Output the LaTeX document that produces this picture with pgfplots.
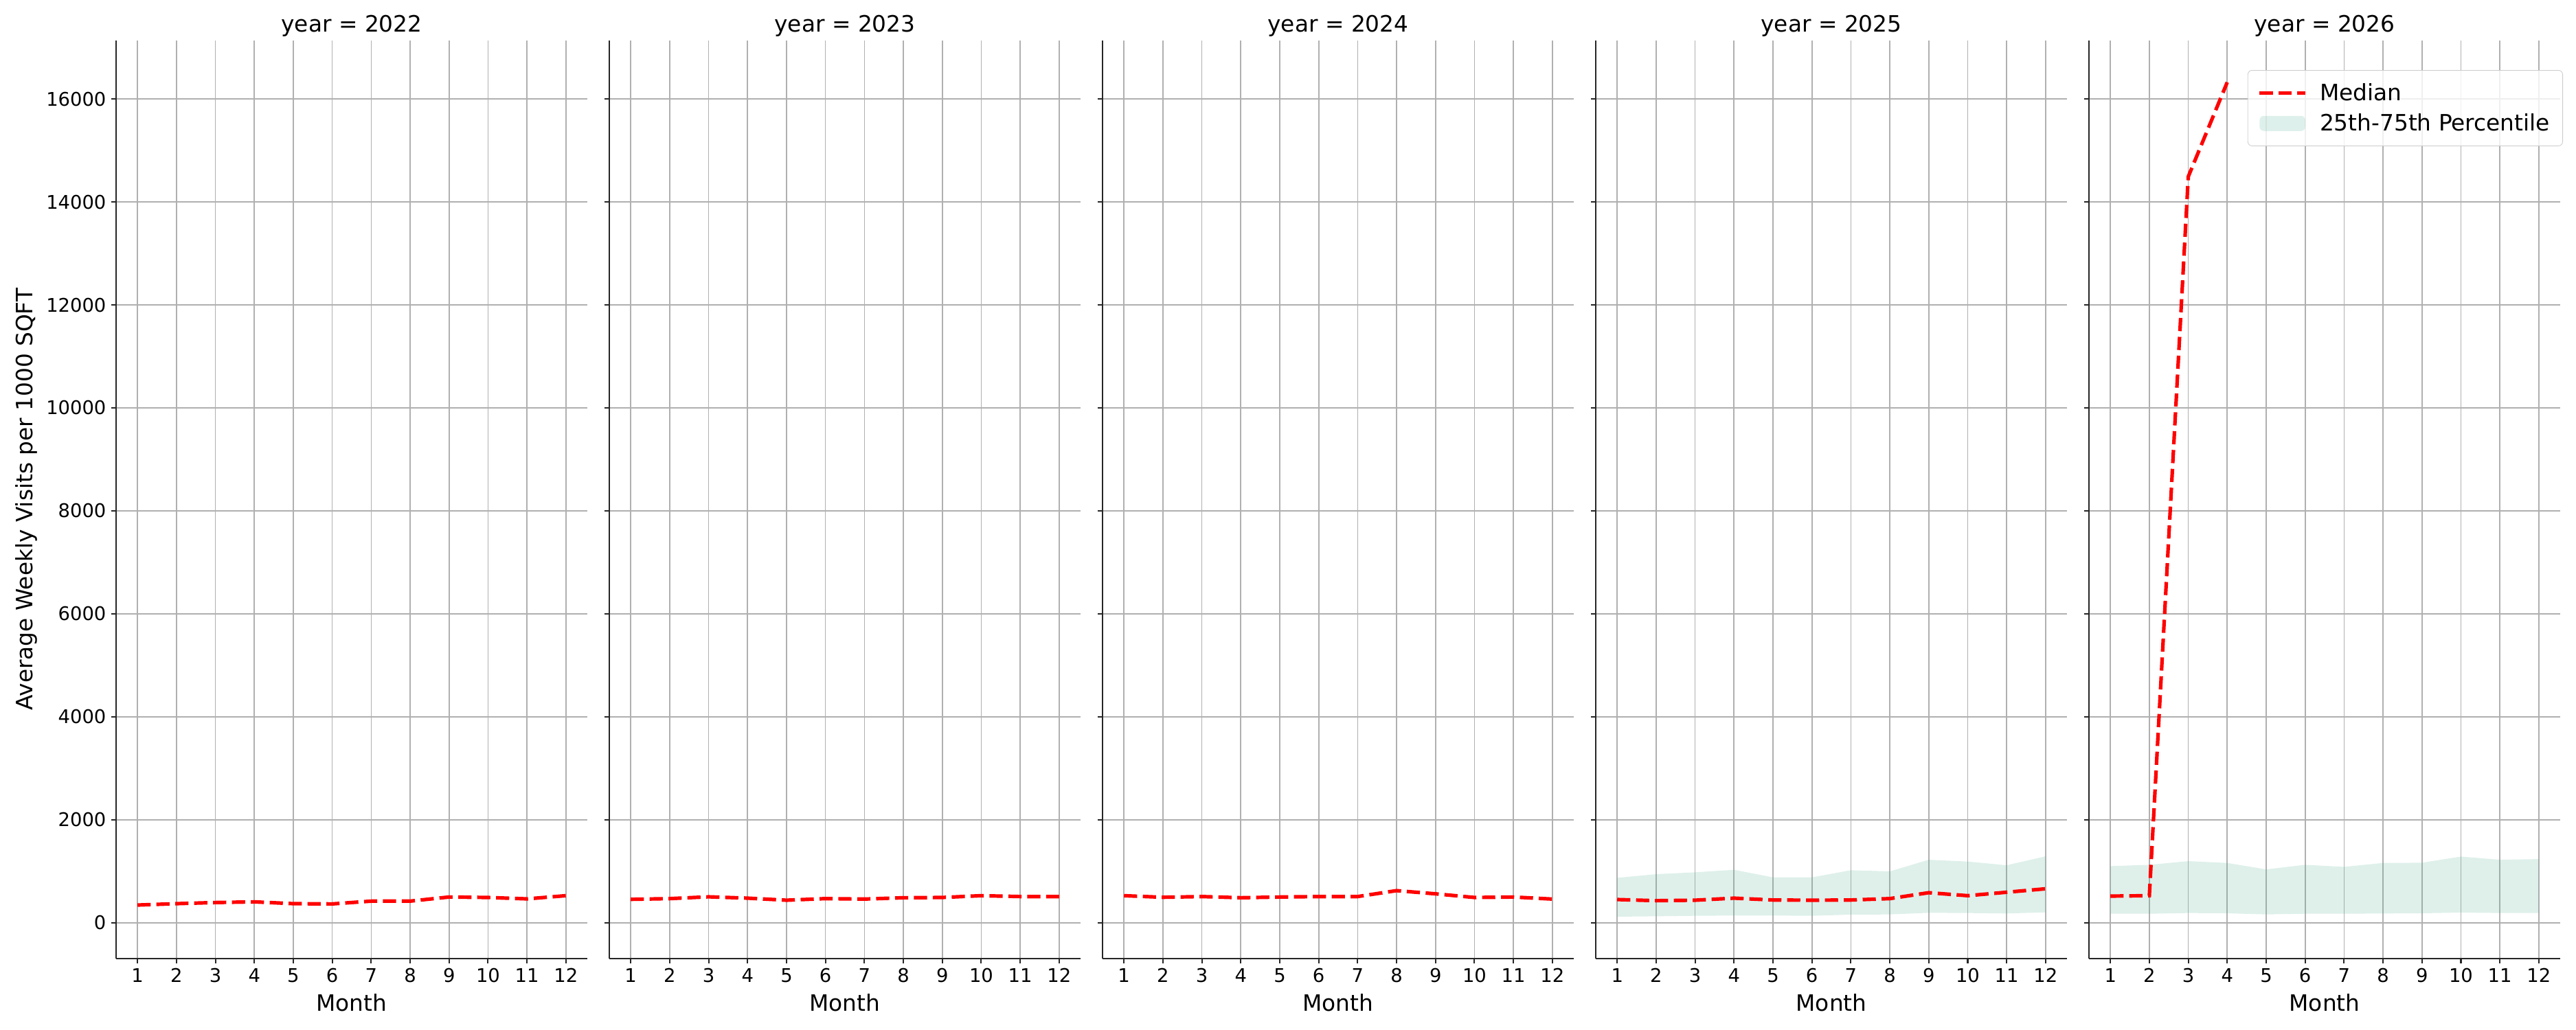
\documentclass[border=0pt]{standalone}
\usepackage{fontspec}
\setmainfont{DejaVu Sans}
\usepackage{pgfplots}
\pgfplotsset{compat=1.18}

\definecolor{gridgray}{HTML}{B0B0B0}
\definecolor{spine}{HTML}{262626}
\definecolor{band}{RGB}{95,180,155}
\definecolor{medred}{RGB}{255,0,0}

\pgfplotsset{
  panel/.style={
    scale only axis, width=4.5733in, height=8.9133in,
    anchor=south west,
    xmin=0.45, xmax=12.55, ymin=-694, ymax=17140,
    xtick={1,...,12}, ytick={0,2000,...,16000},
    scaled y ticks=false,
    axis lines*=left,
    axis line style={spine, line width=1pt},
    tick align=outside, major tick length=3.5pt,
    tick style={spine, line width=1pt},
    grid=major, major grid style={gridgray, line width=0.8pt},
    tick label style={font=\fontsize{13.2}{15}\selectfont},
    /pgf/number format/assume math mode=true,
    /pgf/number format/1000 sep={},
    label style={font=\fontsize{15.8}{19}\selectfont},
    every axis title shift=0pt,
    title style={font=\fontsize{15.8}{19}\selectfont,
      at={(axis description cs:0.5,1.009)}, anchor=base},
    xlabel style={at={(axis description cs:0.5,-0.0576)}, anchor=base},
    xlabel={Month},
  },
  median/.style={medred, line width=2.5pt, dash pattern=on 9.25pt off 4pt,
    legend image code/.code={\draw[##1] (0pt,0pt) -- (32pt,0pt);}},
  iqr/.style={draw=none, fill=band, fill opacity=0.2,
    legend image code/.code={\fill[band, fill opacity=0.2] (0pt,-5.3pt) rectangle (32pt,5.3pt);}},
}

\begin{document}
\begin{tikzpicture}
\path[use as bounding box] (0,0) rectangle (25in,10in);

% 2022
\begin{axis}[panel, at={(1.1267in,0.6953in)}, title={year = 2022},
  ylabel={Average Weekly Visits per 1000 SQFT},
  ylabel style={at={(axis description cs:-0.1778,0.5)}, anchor=base}]
\addplot[median] coordinates {(1,342)(2,369)(3,391)(4,404)(5,369)(6,364)(7,418)(8,418)(9,498)(10,489)(11,462)(12,524)};
\end{axis}

% 2023
\begin{axis}[panel, at={(5.9133in,0.6953in)}, title={year = 2023}, yticklabels={}]
\addplot[median] coordinates {(1,453)(2,467)(3,502)(4,476)(5,436)(6,467)(7,458)(8,484)(9,489)(10,524)(11,507)(12,507)};
\end{axis}

% 2024
\begin{axis}[panel, at={(10.7in,0.6953in)}, title={year = 2024}, yticklabels={}]
\addplot[median] coordinates {(1,524)(2,493)(3,507)(4,484)(5,498)(6,507)(7,507)(8,622)(9,560)(10,489)(11,498)(12,458)};
\end{axis}

% 2025
\begin{axis}[panel, at={(15.4867in,0.6953in)}, title={year = 2025}, yticklabels={}]
\addplot[iqr] coordinates {(1,871)(2,942)(3,978)(4,1027)(5,880)(6,880)(7,1018)(8,996)(9,1222)(10,1187)(11,1115)(12,1289)
  (12,200)(11,178)(10,187)(9,191)(8,160)(7,156)(6,133)(5,138)(4,138)(3,133)(2,124)(1,116)} -- cycle;
\addplot[median] coordinates {(1,449)(2,427)(3,436)(4,476)(5,440)(6,436)(7,440)(8,467)(9,582)(10,524)(11,591)(12,658)};
\end{axis}

% 2026
\begin{axis}[panel, at={(20.2733in,0.6953in)}, title={year = 2026}, yticklabels={},
  reverse legend, legend cell align=left,
  legend style={at={(axis description cs:1.0058,0.9676)}, anchor=north east,
    draw=black!20, rounded corners=3pt, fill=white, fill opacity=0.8, text opacity=1,
    font=\fontsize{15.8}{19}\selectfont, row sep=4pt,
    inner xsep=7pt, inner ysep=7pt,
    /tikz/every odd column/.append style={column sep=7pt}}]
\addplot[iqr] coordinates {(1,1098)(2,1124)(3,1195)(4,1160)(5,1035)(6,1124)(7,1084)(8,1160)(9,1164)(10,1284)(11,1222)(12,1235)
  (12,187)(11,187)(10,196)(9,182)(8,178)(7,173)(6,173)(5,160)(4,182)(3,187)(2,173)(1,173)} -- cycle;
\addlegendentry{25th-75th Percentile}
\addplot[median] coordinates {(1,516)(2,524)(3,14493)(4,16325)};
\addlegendentry{Median}
\end{axis}
\end{tikzpicture}
\end{document}
